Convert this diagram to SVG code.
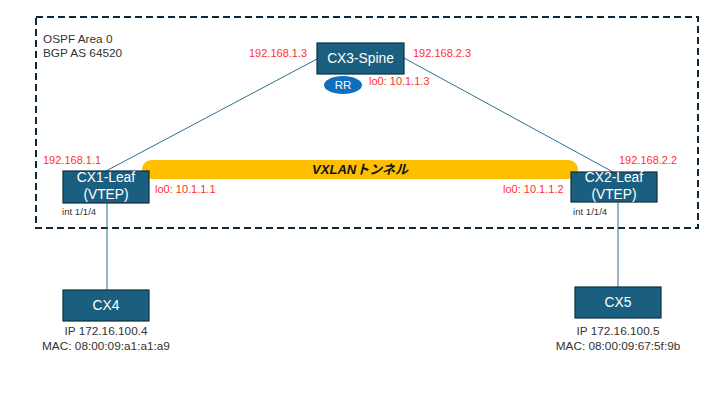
<svg xmlns="http://www.w3.org/2000/svg" width="720" height="405" viewBox="0 0 720 405">
<style>
text{font-family:"Liberation Sans","Noto Sans CJK JP",sans-serif}
.box{fill:#1b5f80;stroke:#0e2f3f;stroke-width:1.2}
.lbl{fill:#ffffff;font-size:13.8px;text-anchor:middle}
.red{fill:#ff3030;font-size:11px}
.dark{fill:#333333;font-size:11.8px}
.small{fill:#333333;font-size:9.6px}
.link{stroke:#2f6f8f;stroke-width:1;fill:none}
</style>
<rect x="36" y="17" width="662" height="211" fill="none" stroke="#0e2a3a" stroke-width="2" stroke-dasharray="7,4"/>
<text class="dark" x="43" y="43">OSPF Area 0</text>
<text class="dark" x="43" y="57">BGP AS 64520</text>
<g id="connectors">
<line class="link" x1="317" y1="59" x2="106" y2="171"/>
<line class="link" x1="404" y1="58" x2="613" y2="172"/>
<line class="link" x1="107" y1="203" x2="107" y2="290"/>
<line class="link" x1="618" y1="202" x2="618" y2="287"/>
</g>
<g id="tunnel">
<rect x="142" y="160" width="436" height="19" rx="9.5" fill="#fdbf00"/>
<text x="360" y="173.5" text-anchor="middle" font-size="13" font-weight="bold" font-style="italic" fill="#111">VXLANトンネル</text>
</g>
<g id="spine">
<rect class="box" x="317" y="43" width="87" height="31"/>
<text class="lbl" x="360.5" y="63">CX3-Spine</text>
<ellipse cx="343" cy="85" rx="19" ry="9" fill="#0e6fbf"/>
<text x="343" y="89" text-anchor="middle" font-size="11.5" fill="#fff">RR</text>
<text class="red" x="249" y="57">192.168.1.3</text>
<text class="red" x="413" y="57">192.168.2.3</text>
<text class="red" x="369" y="85">lo0: 10.1.1.3</text>
</g>
<g id="leaf1">
<rect class="box" x="63" y="171" width="86" height="32"/>
<text class="lbl" x="106" y="182">CX1-Leaf</text>
<text class="lbl" x="106" y="199">(VTEP)</text>
<text class="red" x="43" y="164">192.168.1.1</text>
<text class="red" x="155" y="193">lo0: 10.1.1.1</text>
<text class="small" x="62" y="215">int 1/1/4</text>
</g>
<g id="leaf2">
<rect class="box" x="571" y="172" width="86" height="30"/>
<text class="lbl" x="614" y="182">CX2-Leaf</text>
<text class="lbl" x="614" y="199">(VTEP)</text>
<text class="red" x="619" y="164">192.168.2.2</text>
<text class="red" x="503" y="193">lo0: 10.1.1.2</text>
<text class="small" x="573" y="215">int 1/1/4</text>
</g>
<g id="cx4">
<rect class="box" x="63" y="290" width="86" height="31"/>
<text class="lbl" x="106" y="310">CX4</text>
<text class="dark" x="106" y="335" text-anchor="middle">IP 172.16.100.4</text>
<text class="dark" x="106" y="350" text-anchor="middle">MAC: 08:00:09:a1:a1:a9</text>
</g>
<g id="cx5">
<rect class="box" x="575" y="287" width="86" height="31"/>
<text class="lbl" x="618" y="307">CX5</text>
<text class="dark" x="618" y="335" text-anchor="middle">IP 172.16.100.5</text>
<text class="dark" x="618" y="350" text-anchor="middle">MAC: 08:00:09:67:5f:9b</text>
</g>
</svg>
